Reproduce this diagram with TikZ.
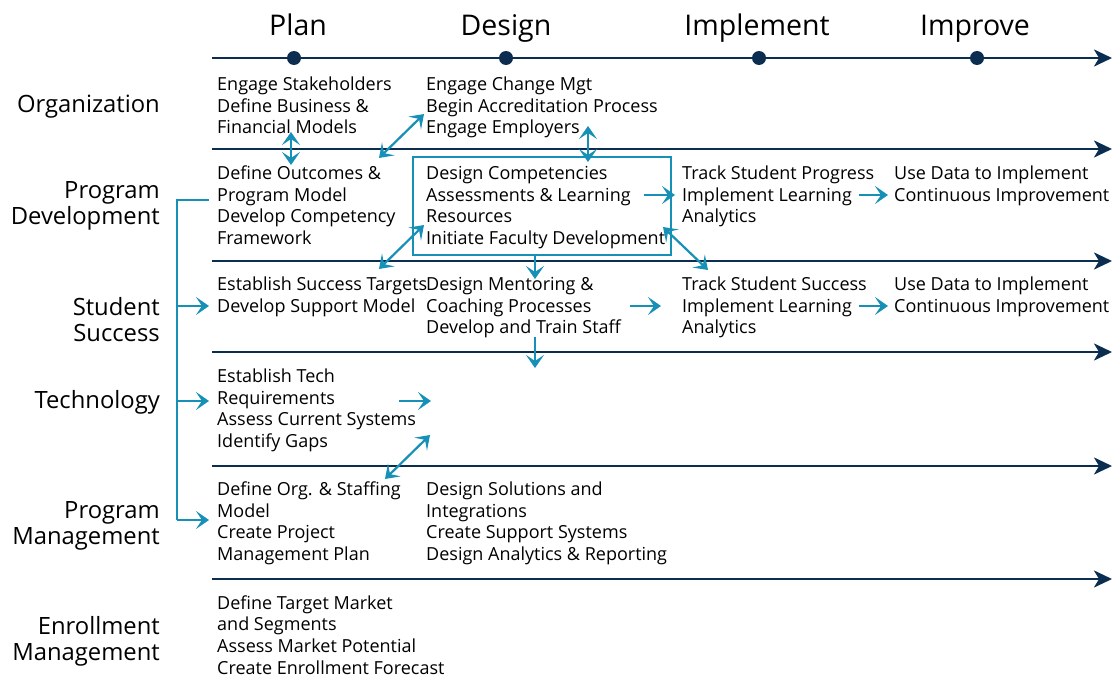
\documentclass[tikz,border=0pt]{standalone}
\usepackage{fontspec}
\setmainfont{Open Sans}
\usetikzlibrary{arrows.meta}
\definecolor{navyc}{HTML}{0B2D50}
\definecolor{tealc}{HTML}{1690B6}
\begin{document}
\begin{tikzpicture}[x=1pt,y=-1pt,
  body/.style={anchor=base west, align=left, inner sep=0pt, text=black, font=\fontsize{18}{21.6}\selectfont},
  rowlab/.style={anchor=base east, align=right, inner sep=0pt, font=\fontsize{23.8}{26}\selectfont},
  phase/.style={anchor=base, inner sep=0pt, font=\fontsize{28.5}{30}\selectfont},
  navyline/.style={navyc, line width=2.6pt, -{Stealth[length=18pt,width=17pt,inset=5pt]}},
  tealarr/.style={tealc, line width=2.2pt, -{Stealth[length=13pt,width=18pt,inset=6pt]}},
  tealdbl/.style={tealc, line width=2.2pt, {Stealth[length=13pt,width=18pt,inset=6pt]}-{Stealth[length=13pt,width=18pt,inset=6pt]}},
  dot/.style={circle, fill=navyc, inner sep=0pt, minimum size=14pt}
]
\useasboundingbox (0,0) rectangle (1117,677);

% phase headers
\node[phase] (hplan) at (298,36) {Plan};
\node[phase] (hdes) at (506,36) {Design};
\node[phase] (himp) at (757,36) {Implement};
\node[phase] (himpr) at (975,36) {Improve};

% horizontal lines
\foreach \n/\y in {l0/58, l1/149, l2/261, l3/352, l4/466, l5/579} {
  \coordinate (\n s) at (212,\y);
  \coordinate (\n e) at (1112,\y);
  \draw[navyline] (\n s) -- (\n e);
}
\node[dot] (dplan) at (294,58) {};
\node[dot] (ddes) at (506,58) {};
\node[dot] (dimp) at (759,58) {};
\node[dot] (dimpr) at (977,58) {};

% row labels (anchored at the baseline of the last line)
\node[rowlab] (rorg) at (160,113) {Organization};
\node[rowlab] (rpd) at (160,224) {Program\\Development};
\node[rowlab] (rss) at (160,341) {Student\\Success};
\node[rowlab] (rtech) at (160,408) {Technology};
\node[rowlab] (rpm) at (160,544) {Program\\Management};
\node[rowlab] (rem) at (160,660) {Enrollment\\Management};

% Organization
\node[body] (o1) at (217,133.7) {Engage Stakeholders\\Define Business \&\\Financial Models};
\node[body] (o2) at (426,133.7) {Engage Change Mgt\\Begin Accreditation Process\\Engage Employers};
% Program development
\node[body] (p1) at (217,244.3) {Define Outcomes \&\\Program Model\\Develop Competency\\Framework};
\node[body] (p2) at (426,244.3) {Design Competencies\\Assessments \& Learning\\Resources\\Initiate Faculty Development};
\node[body] (p3) at (682,222.7) {Track Student Progress\\Implement Learning\\Analytics};
\node[body] (p4) at (894,201.1) {Use Data to Implement\\Continuous Improvement};
% Student success
\node[body] (s1) at (217,312.1) {Establish Success Targets\\Develop Support Model};
\node[body] (s2) at (426,333.7) {Design Mentoring \&\\Coaching Processes\\Develop and Train Staff};
\node[body] (s3) at (682,333.7) {Track Student Success\\Implement Learning\\Analytics};
\node[body] (s4) at (894,312.1) {Use Data to Implement\\Continuous Improvement};
% Technology
\node[body] (t1) at (217,447.3) {Establish Tech\\Requirements\\Assess Current Systems\\Identify Gaps};
% Program management
\node[body] (m1) at (217,560.3) {Define Org. \& Staffing\\Model\\Create Project\\Management Plan};
\node[body] (m2) at (426,560.3) {Design Solutions and\\Integrations\\Create Support Systems\\Design Analytics \& Reporting};
% Enrollment management
\node[body] (e1) at (217,674) {Define Target Market\\and Segments\\Assess Market Potential\\Create Enrollment Forecast};

% teal box
\node[draw=tealc, line width=2pt, inner sep=0pt, minimum width=258pt, minimum height=98pt, anchor=north west] (box) at (412,156) {};

% teal arrows (end points)
\coordinate (a1a) at (291,132); \coordinate (a1b) at (291,165);
\coordinate (a2a) at (379,158); \coordinate (a2b) at (424,114);
\coordinate (a3a) at (588,126); \coordinate (a3b) at (588,162);
\coordinate (a4a) at (644,195); \coordinate (a4b) at (675,195);
\coordinate (a5a) at (859,195); \coordinate (a5b) at (888,195);
\coordinate (a6a) at (379,269); \coordinate (a6b) at (424,225);
\coordinate (a7a) at (663,227); \coordinate (a7b) at (708,270);
\coordinate (a8a) at (535,254); \coordinate (a8b) at (535,279);
\coordinate (a9a) at (630,306); \coordinate (a9b) at (661,306);
\coordinate (a10a) at (859,306); \coordinate (a10b) at (888,306);
\coordinate (a11a) at (535,337); \coordinate (a11b) at (535,368);
\coordinate (a12a) at (399,401); \coordinate (a12b) at (431,401);
\coordinate (a13a) at (385,479); \coordinate (a13b) at (430,435);

\draw[tealdbl] (a1a) -- (a1b);
\draw[tealdbl] (a2a) -- (a2b);
\draw[tealdbl] (a3a) -- (a3b);
\draw[tealarr] (a4a) -- (a4b);
\draw[tealarr] (a5a) -- (a5b);
\draw[tealdbl] (a6a) -- (a6b);
\draw[tealdbl] (a7a) -- (a7b);
\draw[tealarr] (a8a) -- (a8b);
\draw[tealarr] (a9a) -- (a9b);
\draw[tealarr] (a10a) -- (a10b);
\draw[tealarr] (a11a) -- (a11b);
\draw[tealarr] (a12a) -- (a12b);
\draw[tealdbl] (a13a) -- (a13b);

% bracket
\coordinate (bt) at (209,200);
\coordinate (bc) at (177,200);
\coordinate (bb) at (177,520);
\coordinate (bss0) at (177,306);
\coordinate (btech0) at (177,401);
\coordinate (bss) at (209,306);
\coordinate (btech) at (209,401);
\coordinate (bpm) at (209,520);
\draw[tealc, line width=2pt] (bt) -- (bc) -- (bb);
\draw[tealarr] (bss0) -- (bss);
\draw[tealarr] (btech0) -- (btech);
\draw[tealarr] (bb) -- (bpm);
\end{tikzpicture}
\end{document}
